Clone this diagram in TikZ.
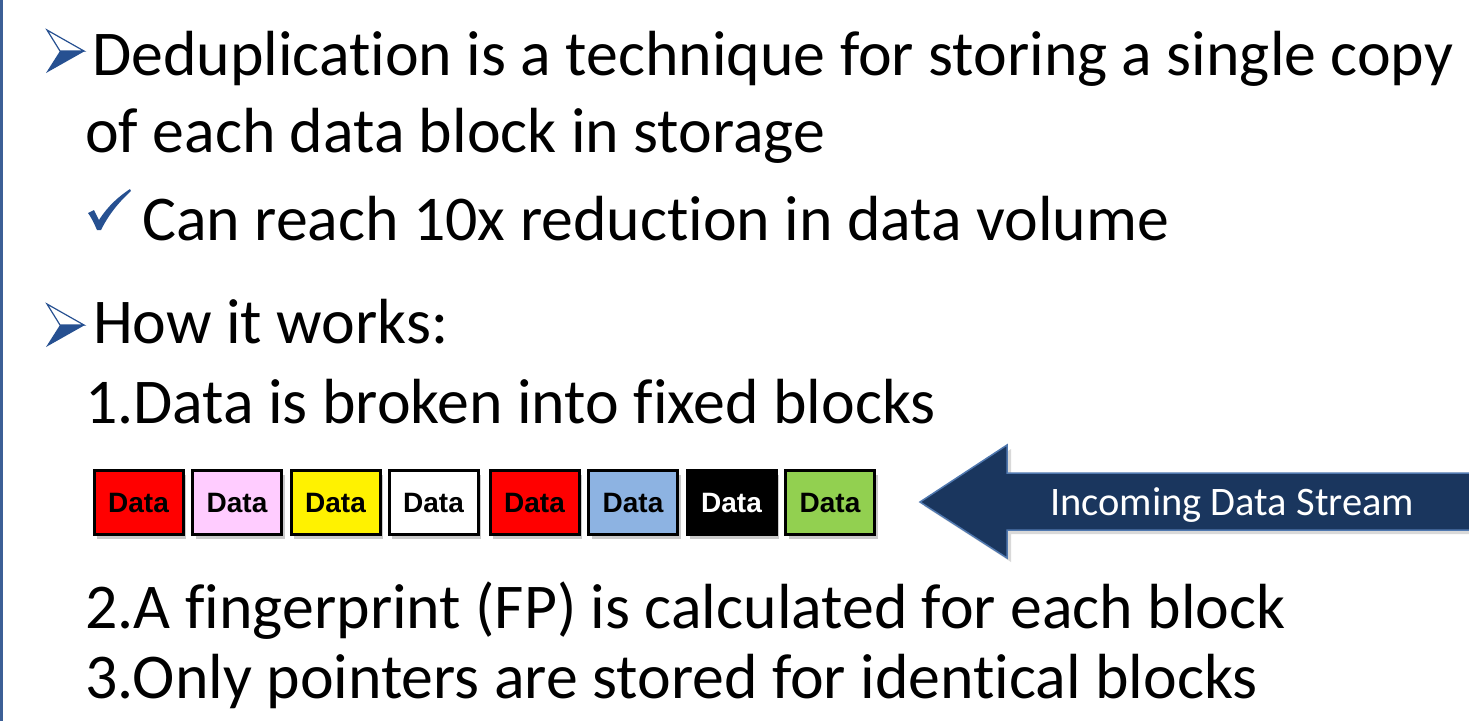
\documentclass[tikz,border=0pt]{standalone}
\usepackage{fontspec}
\setmainfont[RawFeature=-liga]{Carlito}
\newfontfamily\blockfont{Liberation Sans}
\usetikzlibrary{shadows}
\definecolor{bulblue}{RGB}{38,80,145}
\definecolor{edgeblue}{RGB}{60,95,150}
\definecolor{navy}{RGB}{26,54,94}
\definecolor{arrowedge}{RGB}{80,120,175}
\definecolor{cpink}{RGB}{255,204,255}
\definecolor{cblue}{RGB}{141,179,226}
\definecolor{cgreen}{RGB}{146,208,80}
\tikzset{
  line/.style={anchor=base west, inner sep=0pt, font=\fontsize{63.8}{70}\selectfont},
  blk/.style={draw=black, line width=3pt, minimum width=89pt, minimum height=64pt, inner sep=0pt,
     font=\blockfont\bfseries\fontsize{28}{30}\selectfont,
     drop shadow={shadow xshift=3pt, shadow yshift=-4pt, opacity=0.35, fill=black!60}},
}
\begin{document}
\begin{tikzpicture}[x=1pt,y=-1pt]
\useasboundingbox (0,0) rectangle (1469,721);
\fill[edgeblue] (0,0) rectangle (3,721);
% bullets
\foreach \yy/\nm in {0/b1,274/b2}{
  \begin{scope}[yshift=-\yy]
  \fill[bulblue] (60,51) -- (85,51) -- (46,73) -- cycle;
  \draw[bulblue, line width=1.2pt, line join=miter] (47,30) -- (84,51) -- (60,51) -- cycle;
  \end{scope}
}
% check mark
\fill[bulblue] (88,213) -- (94,210) -- (99,220)
   .. controls (108,206) and (118,197) .. (130,189) -- (131,191)
   .. controls (119,202) and (109,214) .. (101,230) -- (97,230)
   .. controls (94,223) and (91,217) .. (88,213) -- cycle;
\node[line] (l1) at (92,75) {Deduplication is a technique for storing a single copy};
\node[line] (l2) at (85,152) {of each data block in storage};
\node[line] (l3) at (142,240) {Can reach 10x reduction in data volume};
\node[line] (l4) at (93,343) {How it works:};
\node[line] (l5) at (85,423) {1.Data is broken into fixed blocks};
\node[line] (l6) at (85,628) {2.A fingerprint (FP) is calculated for each block};
\node[line] (l7) at (85,698) {3.Only pointers are stored for identical blocks};
% blocks
\node[blk, fill=red] (d1) at (138.5,502.5) {Data};
\node[blk, fill=cpink] (d2) at (237,502.5) {Data};
\node[blk, fill=yellow] (d3) at (335.5,502.5) {Data};
\node[blk, fill=white] (d4) at (433.5,502.5) {Data};
\node[blk, fill=red] (d5) at (534.5,502.5) {Data};
\node[blk, fill=cblue] (d6) at (633,502.5) {Data};
\node[blk, fill=black, text=white] (d7) at (731.5,502.5) {Data};
\node[blk, fill=cgreen] (d8) at (830,502.5) {Data};
% arrow
\fill[black, opacity=0.15] (924,506) -- (1011,449) -- (1011,477) -- (1472,477) -- (1472,534) -- (1011,534) -- (1011,562) -- cycle;
\draw[fill=navy, draw=arrowedge, line width=1.5pt] (920,502) -- (1007,445) -- (1007,473) -- (1472,473) -- (1472,530) -- (1007,530) -- (1007,558) -- cycle;
\node[anchor=base west, inner sep=0pt, text=white, font=\fontsize{40.5}{50}\selectfont] (inc) at (1050,515) {Incoming Data Stream};
\end{tikzpicture}
\end{document}
